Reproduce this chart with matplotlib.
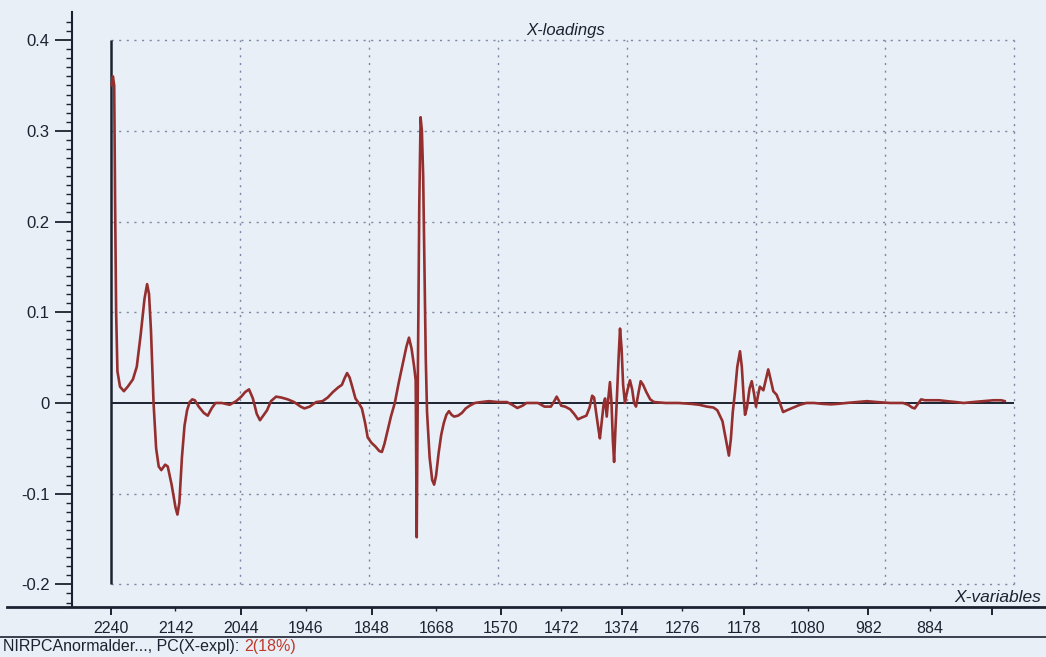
import matplotlib
matplotlib.use("Agg")
import matplotlib.pyplot as plt
from matplotlib.lines import Line2D

plt.rcParams['font.family'] = ['Liberation Sans', 'DejaVu Sans']

# ---------------------------
# Loadings for PC2 (x = variable number)
# ---------------------------
var_no = [0.5, 1.5, 2.5, 3.2, 4.0, 5.0, 7, 10, 13, 17, 20, 23, 26, 28, 29.5, 31, 33, 35, 37,
          39, 42, 44, 47, 50, 51.5, 53, 55, 57, 59, 61, 63, 65, 68, 72, 75, 78, 81, 86, 92,
          97, 101, 104, 107, 110, 113, 115.5, 118, 121, 124, 128, 132, 137, 142, 147, 150,
          154, 159, 164, 168, 172, 176, 179, 181, 183, 185, 187, 189.5, 192, 194.5, 197,
          199, 202, 205, 208, 210, 212, 214, 217, 220, 223, 226, 229, 231, 233, 235, 236.2,
          237, 238, 239, 240, 241, 242, 243, 244, 245, 247, 249, 250.5, 252, 254, 256, 258,
          260, 262, 264, 266, 269, 272, 275, 278, 282, 287, 293, 300, 307, 311, 315, 319,
          322, 327, 331, 336, 341, 344, 345.5, 347, 349, 352, 356, 359, 362, 365, 368.5,
          371, 373, 374.5, 376, 378, 379, 380.5, 382, 383, 384.3, 385.5, 386.8, 388, 389,
          390, 391, 392, 393.5, 394.6, 395.8, 397, 398.4, 400, 402.3, 404, 405.5, 407, 409,
          410.6, 412.5, 415, 418, 421, 430, 440, 450, 456, 462, 467, 470, 472, 474, 476, 478,
          479, 480.5, 482, 483.7, 485.5, 487.6, 489, 490.5, 491.5, 493, 495, 496.7, 498.5,
          500, 501.5, 503, 505.7, 507.5, 509.5, 511, 513.4, 516, 518.5, 521, 524, 529, 534,
          539, 545, 552, 558, 563, 570, 578, 586, 594, 604, 614, 618, 621, 623, 625, 628,
          631, 636, 642, 648, 655, 661, 668, 676, 684, 690, 693]
loading = [0.35, 0.36, 0.35, 0.22, 0.10, 0.035, 0.018, 0.013, 0.018, 0.026, 0.04, 0.075,
           0.115, 0.131, 0.12, 0.08, 0.0, -0.05, -0.07, -0.074, -0.068, -0.07, -0.09, -0.115,
           -0.123, -0.11, -0.06, -0.025, -0.008, 0.001, 0.004, 0.003, -0.004, -0.011, -0.014,
           -0.006, 0.0, 0.0, -0.002, 0.002, 0.007, 0.012, 0.015, 0.005, -0.012, -0.019,
           -0.014, -0.008, 0.002, 0.007, 0.006, 0.004, 0.001, -0.004, -0.006, -0.004, 0.001,
           0.002, 0.006, 0.012, 0.017, 0.02, 0.027, 0.033, 0.028, 0.018, 0.005, 0.0, -0.006,
           -0.022, -0.038, -0.044, -0.048, -0.053, -0.054, -0.045, -0.033, -0.015, 0.0,
           0.022, 0.042, 0.062, 0.072, 0.06, 0.04, 0.025, -0.148, 0.05, 0.22, 0.315, 0.30,
           0.25, 0.15, 0.05, -0.01, -0.06, -0.085, -0.09, -0.08, -0.055, -0.035, -0.022,
           -0.013, -0.009, -0.013, -0.015, -0.014, -0.011, -0.006, -0.003, 0.0, 0.001, 0.002,
           0.001, 0.001, -0.002, -0.0055, -0.003, 0.0, 0.0, 0.0, -0.004, -0.004, 0.003,
           0.007, 0.003, -0.003, -0.004, -0.007, -0.012, -0.018, -0.016, -0.014, -0.005,
           0.008, 0.006, -0.01, -0.03, -0.039, -0.02, 0.0, 0.005, -0.015, 0.005, 0.023, 0.0,
           -0.04, -0.065, -0.03, 0.0, 0.05, 0.082, 0.06, 0.02, 0.0, 0.012, 0.025, 0.015, 0.0,
           -0.004, 0.012, 0.024, 0.02, 0.012, 0.004, 0.001, 0.0, 0.0, -0.001, -0.002, -0.004,
           -0.005, -0.008, -0.014, -0.02, -0.035, -0.05, -0.058, -0.04, -0.01, 0.012, 0.04,
           0.057, 0.04, 0.005, -0.013, -0.005, 0.016, 0.024, 0.01, -0.004, 0.008, 0.018,
           0.014, 0.025, 0.037, 0.028, 0.013, 0.009, 0.0, -0.01, -0.008, -0.005, -0.002, 0.0,
           0.0, -0.001, -0.0015, -0.001, 0.0, 0.001, 0.002, 0.001, 0.0, 0.0, -0.002, -0.005,
           -0.006, -0.002, 0.004, 0.003, 0.003, 0.003, 0.002, 0.001, 0.0, 0.001, 0.002, 0.003,
           0.003, 0.002]

# x axis: variable names shown at selected variable numbers
tick_pos = [0, 50, 101, 151, 202, 252, 302, 349, 396, 443, 491, 540, 587, 635, 683]
tick_lab = ['2240', '2142', '2044', '1946', '1848', '1668', '1570', '1472', '1374',
            '1276', '1178', '1080', '982', '884', '']
y_ticks = [0.4, 0.3, 0.2, 0.1, 0.0, -0.1, -0.2]
y_tick_lab = ['0.4', '0.3', '0.2', '0.1', '0', '-0.1', '-0.2']
grid_x = [100, 200, 300, 400, 500, 600, 700]
grid_y = [0.4, 0.3, 0.2, 0.1, -0.1, -0.2]
n_vars = 700

bg = '#e9eff6'
ink = '#1c2230'

fig = plt.figure(figsize=(10.46, 6.57), dpi=100, facecolor=bg)
ax = fig.add_axes([7/1046, 50/657, 1 - 7/1046, 595/657])
ax.set_facecolor(bg)
ax.set_xlim(-80.6, 724.8)
ax.set_ylim(-0.2249, 0.431)

# dotted grid
dots = (0, (1.5, 4))
ax.hlines(grid_y, 0, n_vars, colors='#7b88a2', linestyles=dots, lw=1)
ax.vlines(grid_x, min(grid_y), max(grid_y), colors='#7b88a2', linestyles=dots, lw=1)

# zero line and start marker
ax.hlines(0, 0, n_vars, colors=ink, lw=1.4, zorder=3)
ax.vlines(0, min(grid_y), max(grid_y), colors=ink, lw=1.8, zorder=3)

ax.plot(var_no, loading, color='#952f2f', lw=1.9, zorder=4,
        solid_joinstyle='round', solid_capstyle='round')

# axes
for s in ['top', 'right']:
    ax.spines[s].set_visible(False)
ax.spines['left'].set_position(('data', -30.2))
ax.spines['left'].set_color(ink)
ax.spines['left'].set_linewidth(1.5)
ax.spines['bottom'].set_color(ink)
ax.spines['bottom'].set_linewidth(2)

ax.set_yticks(y_ticks)
ax.set_yticklabels(y_tick_lab)
ax.set_yticks([v / 100 for v in range(-22, 43)], minor=True)
ax.tick_params(axis='y', which='major', length=12, width=1.3, color=ink,
               labelsize=12, labelcolor=ink, pad=4)
ax.tick_params(axis='y', which='minor', length=4, width=1, color=ink)

ax.set_xticks(tick_pos[::2])
ax.set_xticks(tick_pos[1::2], minor=True)
ax.set_xticklabels(tick_lab[::2])
ax.set_xticklabels(tick_lab[1::2], minor=True)
ax.tick_params(axis='x', which='major', length=6, width=1.4, color=ink,
               labelsize=11.5, labelcolor=ink, pad=4)
ax.tick_params(axis='x', which='minor', length=3, width=1, color=ink,
               labelsize=11.5, labelcolor=ink, pad=7)

# labels
fig.text(566/1046, 1 - 30/657, 'X-loadings', ha='center', va='center',
         style='italic', fontsize=12, color=ink)
fig.text(1041/1046, 1 - 598/657, 'X-variables', ha='right', va='center',
         style='italic', fontsize=12.5, color=ink)

# footer
fig.add_artist(Line2D([0, 1], [1 - 637/657] * 2, transform=fig.transFigure,
                      color=ink, lw=1.2))
t1 = fig.text(3/1046, 1 - 647/657, 'NIRPCAnormalder..., PC(X-expl): ', ha='left',
              va='center', fontsize=11.5, color=ink)
fig.canvas.draw()
bb = t1.get_window_extent()
fig.text(bb.x1 / fig.bbox.width, 1 - 647/657, '2(18%)', ha='left', va='center',
         fontsize=11.5, color='#c0392b')

fig.savefig('out.png', dpi=100, facecolor=bg)
